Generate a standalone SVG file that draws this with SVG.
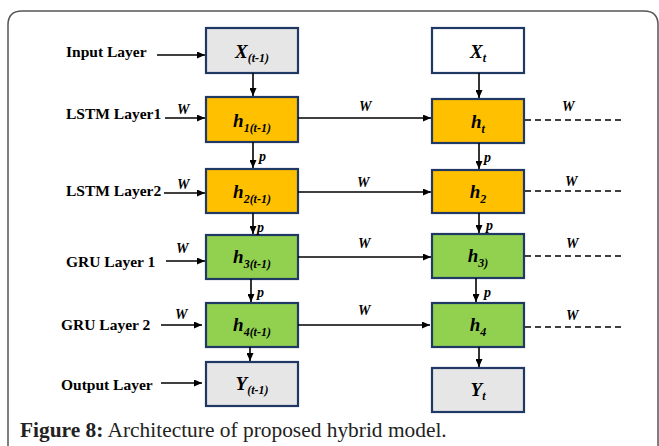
<svg xmlns="http://www.w3.org/2000/svg" width="659" height="446" viewBox="0 0 659 446">
<defs>
<marker id="ah" markerUnits="userSpaceOnUse" markerWidth="8" markerHeight="7" refX="8" refY="3.5" orient="auto">
<path d="M0,0 L8,3.5 L0,7 z" fill="#000"/>
</marker>
<style>
.frame{fill:none;stroke:#555;stroke-width:1.5}
.box{stroke:#1f3864;stroke-width:2.2}
.gray{fill:#e7e6e6}
.white{fill:#fff}
.orange{fill:#ffc000}
.green{fill:#92d050}
.conn line{stroke:#000;stroke-width:1.6}
.arr{marker-end:url(#ah)}
.dash{stroke-dasharray:6 4;stroke-width:2.2}
.lbl{font-family:"Liberation Serif",serif;font-weight:bold;font-size:15.5px;fill:#000}
.it{font-family:"Liberation Serif",serif;font-weight:bold;font-style:italic;font-size:14px;fill:#000}
.bt{font-family:"Liberation Serif",serif;font-weight:bold;font-style:italic;font-size:19px;fill:#000;text-anchor:middle}
.sub{font-size:12px}
.cap{font-family:"Liberation Serif",serif;font-size:21.4px;fill:#222}
</style>
</defs>
<rect width="659" height="446" fill="#fff"/>
<path class="frame" d="M8,446 V25 Q8,11 22,11 H644 Q658,11 658,25 V446"/>

<g id="labels">
<text class="lbl" x="66" y="57">Input Layer</text>
<text class="lbl" x="66" y="119">LSTM Layer1</text>
<text class="lbl" x="66" y="196">LSTM Layer2</text>
<text class="lbl" x="66" y="267">GRU Layer 1</text>
<text class="lbl" x="61" y="330">GRU Layer 2</text>
<text class="lbl" x="61" y="390">Output Layer</text>
</g>

<g id="x_prev"><rect class="box gray" x="206" y="28" width="92" height="45"/><text class="bt" x="252" y="58">X<tspan class="sub" dy="4">(t-1)</tspan></text></g>
<g id="h1_prev"><rect class="box orange" x="206" y="97" width="92" height="45"/><text class="bt" x="252" y="127">h<tspan class="sub" dy="5">1(t-1)</tspan></text></g>
<g id="h2_prev"><rect class="box orange" x="206" y="169" width="92" height="44"/><text class="bt" x="252" y="198">h<tspan class="sub" dy="5">2(t-1)</tspan></text></g>
<g id="h3_prev"><rect class="box green" x="206" y="235" width="92" height="44"/><text class="bt" x="252" y="263">h<tspan class="sub" dy="5">3(t-1)</tspan></text></g>
<g id="h4_prev"><rect class="box green" x="206" y="303" width="92" height="44"/><text class="bt" x="252" y="331">h<tspan class="sub" dy="5">4(t-1)</tspan></text></g>
<g id="y_prev"><rect class="box gray" x="206" y="362" width="92" height="44"/><text class="bt" x="252" y="390">Y<tspan class="sub" dy="4">(t-1)</tspan></text></g>

<g id="x_t"><rect class="box white" x="432" y="28" width="92" height="45"/><text class="bt" x="478" y="58">X<tspan class="sub" dy="4">t</tspan></text></g>
<g id="h_t"><rect class="box orange" x="432" y="99" width="92" height="44"/><text class="bt" x="478" y="128">h<tspan class="sub" dy="5">t</tspan></text></g>
<g id="h2"><rect class="box orange" x="432" y="170" width="92" height="43"/><text class="bt" x="478" y="198">h<tspan class="sub" dy="5">2</tspan></text></g>
<g id="h3"><rect class="box green" x="432" y="234" width="92" height="44"/><text class="bt" x="478" y="262">h<tspan class="sub" dy="5">3)</tspan></text></g>
<g id="h4"><rect class="box green" x="432" y="303" width="92" height="44"/><text class="bt" x="478" y="331">h<tspan class="sub" dy="5">4</tspan></text></g>
<g id="y_t"><rect class="box gray" x="432" y="368" width="92" height="44"/><text class="bt" x="478" y="396">Y<tspan class="sub" dy="4">t</tspan></text></g>

<g id="connectors" class="conn">
<line class="arr" x1="157" y1="55" x2="205" y2="55"/>
<line class="arr" x1="165" y1="118" x2="205" y2="118"/>
<line class="arr" x1="164" y1="193" x2="205" y2="193"/>
<line class="arr" x1="166" y1="261" x2="205" y2="261"/>
<line class="arr" x1="161" y1="325" x2="202" y2="325"/>
<line class="arr" x1="161" y1="383" x2="202" y2="383"/>

<line class="arr" x1="253" y1="73" x2="253" y2="96"/>
<line class="arr" x1="253" y1="142" x2="253" y2="168"/>
<line class="arr" x1="253" y1="213" x2="253" y2="234"/>
<line class="arr" x1="251" y1="279" x2="251" y2="302"/>
<line class="arr" x1="250" y1="347" x2="250" y2="361"/>

<line class="arr" x1="298" y1="118" x2="431" y2="118"/>
<line class="arr" x1="298" y1="192" x2="431" y2="192"/>
<line class="arr" x1="298" y1="257" x2="431" y2="257"/>
<line class="arr" x1="298" y1="325" x2="430" y2="325"/>

<line class="arr" x1="479" y1="73" x2="479" y2="98"/>
<line class="arr" x1="479" y1="143" x2="479" y2="169"/>
<line class="arr" x1="479" y1="213" x2="479" y2="233"/>
<line class="arr" x1="476" y1="278" x2="476" y2="302"/>
<line class="arr" x1="479" y1="347" x2="479" y2="367"/>

<line class="dash" x1="525" y1="120" x2="622" y2="120"/>
<line class="dash" x1="525" y1="191" x2="622" y2="191"/>
<line class="dash" x1="525" y1="256" x2="622" y2="256"/>
<line class="dash" x1="525" y1="327" x2="622" y2="327"/>
</g>

<g id="edge-labels">
<text class="it" x="177" y="114">W</text>
<text class="it" x="177" y="189">W</text>
<text class="it" x="176" y="253">W</text>
<text class="it" x="175" y="319">W</text>
<text class="it" x="259" y="161">p</text>
<text class="it" x="257" y="232">p</text>
<text class="it" x="257" y="297">p</text>
<text class="it" x="484" y="162">p</text>
<text class="it" x="486" y="230">p</text>
<text class="it" x="484" y="297">p</text>
<text class="it" x="359" y="111">W</text>
<text class="it" x="357" y="187">W</text>
<text class="it" x="358" y="248">W</text>
<text class="it" x="358" y="315">W</text>
<text class="it" x="562" y="111">W</text>
<text class="it" x="565" y="186">W</text>
<text class="it" x="566" y="248">W</text>
<text class="it" x="566" y="320">W</text>
</g>

<text class="cap" x="20" y="437"><tspan font-weight="bold">Figure 8:</tspan> Architecture of proposed hybrid model.</text>
</svg>
